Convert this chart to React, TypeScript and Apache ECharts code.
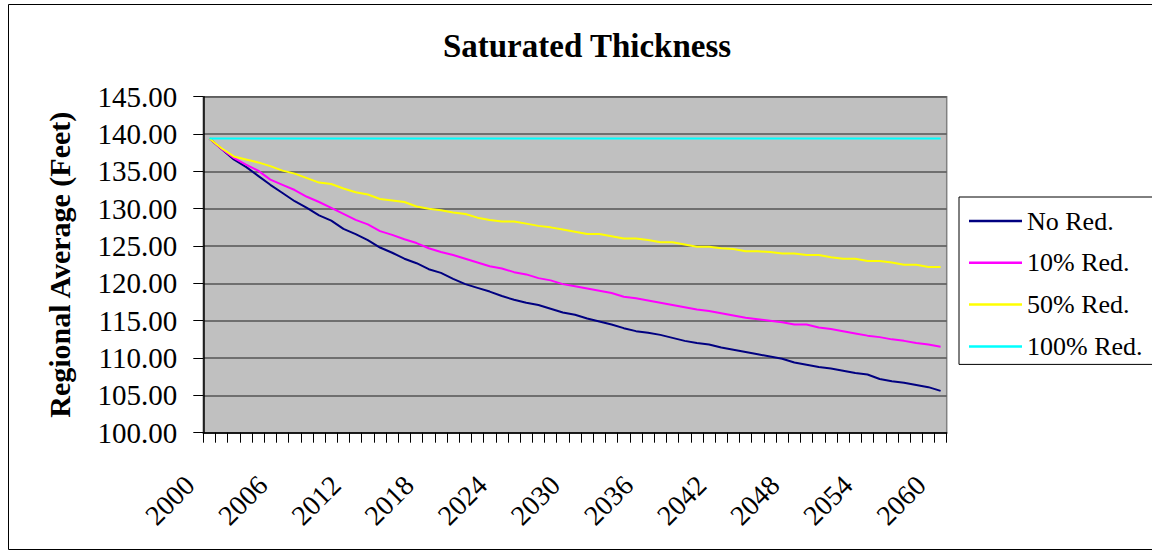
import React, { useEffect, useRef } from "react";
import * as echarts from "echarts";

const years = [
  "2000", "2001", "2002", "2003", "2004", "2005", "2006", "2007", "2008", "2009",
  "2010", "2011", "2012", "2013", "2014", "2015", "2016", "2017", "2018", "2019",
  "2020", "2021", "2022", "2023", "2024", "2025", "2026", "2027", "2028", "2029",
  "2030", "2031", "2032", "2033", "2034", "2035", "2036", "2037", "2038", "2039",
  "2040", "2041", "2042", "2043", "2044", "2045", "2046", "2047", "2048", "2049",
  "2050", "2051", "2052", "2053", "2054", "2055", "2056", "2057", "2058", "2059",
  "2060",
];

const noRed = [
  139.4, 138.0, 136.6, 135.6, 134.4, 133.2, 132.1, 131.0, 130.1, 129.1,
  128.4, 127.3, 126.6, 125.8, 124.8, 124.1, 123.3, 122.7, 121.9, 121.4,
  120.6, 119.9, 119.4, 118.9, 118.3, 117.8, 117.4, 117.1, 116.6, 116.1,
  115.8, 115.3, 114.9, 114.5, 114.0, 113.6, 113.4, 113.1, 112.7, 112.3,
  112.0, 111.8, 111.4, 111.1, 110.8, 110.5, 110.2, 109.9, 109.4, 109.1,
  108.8, 108.6, 108.3, 108.0, 107.8, 107.2, 106.9, 106.7, 106.4, 106.1,
  105.6,
];

const tenRed = [
  139.4, 138.0, 136.8, 135.9, 135.1, 133.9, 133.2, 132.5, 131.6, 130.9,
  130.1, 129.3, 128.5, 127.9, 127.0, 126.5, 125.9, 125.4, 124.7, 124.2,
  123.8, 123.3, 122.8, 122.3, 122.0, 121.5, 121.2, 120.7, 120.4, 119.9,
  119.6, 119.3, 119.0, 118.7, 118.2, 118.0, 117.7, 117.4, 117.1, 116.8,
  116.5, 116.3, 116.0, 115.7, 115.4, 115.2, 115.0, 114.8, 114.5, 114.5,
  114.1, 113.9, 113.6, 113.3, 113.0, 112.8, 112.5, 112.3, 112.0, 111.8,
  111.5,
];

const fiftyRed = [
  139.4, 138.1, 137.0, 136.6, 136.2, 135.7, 135.1, 134.7, 134.1, 133.5,
  133.3, 132.7, 132.2, 131.9, 131.3, 131.1, 130.9, 130.3, 130.0, 129.8,
  129.5, 129.3, 128.8, 128.5, 128.3, 128.3, 128.0, 127.7, 127.5, 127.2,
  126.9, 126.6, 126.6, 126.3, 126.0, 126.0, 125.8, 125.5, 125.5, 125.2,
  124.9, 124.9, 124.7, 124.6, 124.3, 124.3, 124.2, 124.0, 124.0, 123.8,
  123.8, 123.5, 123.3, 123.3, 123.0, 123.0, 122.8, 122.5, 122.5, 122.2,
  122.2,
];

const fullRed = [
  139.4, 139.4, 139.4, 139.4, 139.4, 139.4, 139.4, 139.4, 139.4, 139.4,
  139.4, 139.4, 139.4, 139.4, 139.4, 139.4, 139.4, 139.4, 139.4, 139.4,
  139.4, 139.4, 139.4, 139.4, 139.4, 139.4, 139.4, 139.4, 139.4, 139.4,
  139.4, 139.4, 139.4, 139.4, 139.4, 139.4, 139.4, 139.4, 139.4, 139.4,
  139.4, 139.4, 139.4, 139.4, 139.4, 139.4, 139.4, 139.4, 139.4, 139.4,
  139.4, 139.4, 139.4, 139.4, 139.4, 139.4, 139.4, 139.4, 139.4, 139.4,
  139.4,
];

const seriesNames = ["No Red.", "10% Red.", "50% Red.", "100% Red."];
const seriesColors = ["#000080", "#FF00FF", "#FFFF00", "#00FFFF"];
const seriesData = [noRed, tenRed, fiftyRed, fullRed];

const FONT = "'Liberation Serif', 'Times New Roman', serif";

export default function App() {
  const ref = useRef<HTMLDivElement>(null);

  useEffect(() => {
    if (!ref.current) return;
    const chart = echarts.init(ref.current, undefined, { renderer: "svg" });
    chart.setOption({
      animation: false,
      backgroundColor: "#ffffff",
      title: {
        text: "Saturated Thickness",
        left: 582,
        top: 24,
        textAlign: "center",
        textStyle: { fontFamily: FONT, fontSize: 33, fontWeight: "bold", color: "#000" },
      },
      legend: {
        orient: "vertical",
        left: 959,
        top: 197,
        padding: [9, 12, 3, 10],
        itemGap: 11.8,
        itemWidth: 53,
        itemHeight: 2.5,
        icon: "rect",
        borderColor: "#000",
        borderWidth: 1,
        backgroundColor: "#fff",
        textStyle: { fontFamily: FONT, fontSize: 26, color: "#000", lineHeight: 30 },
        data: seriesNames,
      },
      grid: {
        left: 203.3,
        top: 96.7,
        width: 743.4,
        height: 336,
        show: true,
        backgroundColor: "#C0C0C0",
        borderColor: "#808080",
        borderWidth: 1.5,
      },
      xAxis: {
        type: "category",
        data: years,
        boundaryGap: true,
        axisLine: { show: true, lineStyle: { color: "#000", width: 1.5 } },
        axisTick: { show: true, interval: 0, length: 10, lineStyle: { color: "#000", width: 1 } },
        axisLabel: {
          interval: 5,
          rotate: 45,
          margin: 28,
          padding: [0, 28, 0, 0],
          fontFamily: FONT,
          fontSize: 28,
          color: "#000",
        },
        splitLine: { show: false },
      },
      yAxis: {
        type: "value",
        min: 100,
        max: 145,
        interval: 5,
        name: "Regional Average (Feet)",
        nameLocation: "middle",
        nameGap: 129,
        nameTextStyle: { fontFamily: FONT, fontSize: 30, fontWeight: "bold", color: "#000" },
        axisLine: { show: true, lineStyle: { color: "#000", width: 1.5 } },
        axisTick: { show: true, length: 10, lineStyle: { color: "#000", width: 1 } },
        axisLabel: {
          formatter: (v: number) => v.toFixed(2),
          fontFamily: FONT,
          fontSize: 29,
          margin: 26,
          color: "#000",
        },
        splitLine: { show: true, lineStyle: { color: "#555555", width: 1.5 } },
      },
      series: seriesNames.map((name, i) => ({
        name,
        type: "line",
        data: seriesData[i],
        symbol: "none",
        lineStyle: { color: seriesColors[i], width: 2 },
        itemStyle: { color: seriesColors[i] },
        z: 3 + i,
      })),
      graphic: [
        {
          type: "rect",
          silent: true,
          z: -1,
          shape: { x: 8.5, y: 4.5, width: 1150, height: 545 },
          style: { fill: "none", stroke: "#000", lineWidth: 1 },
        },
      ],
    });
    return () => chart.dispose();
  }, []);

  return (
    <div
      ref={ref}
      style={{ position: "absolute", left: 0, top: 0, width: 1152, height: 554 }}
    />
  );
}
